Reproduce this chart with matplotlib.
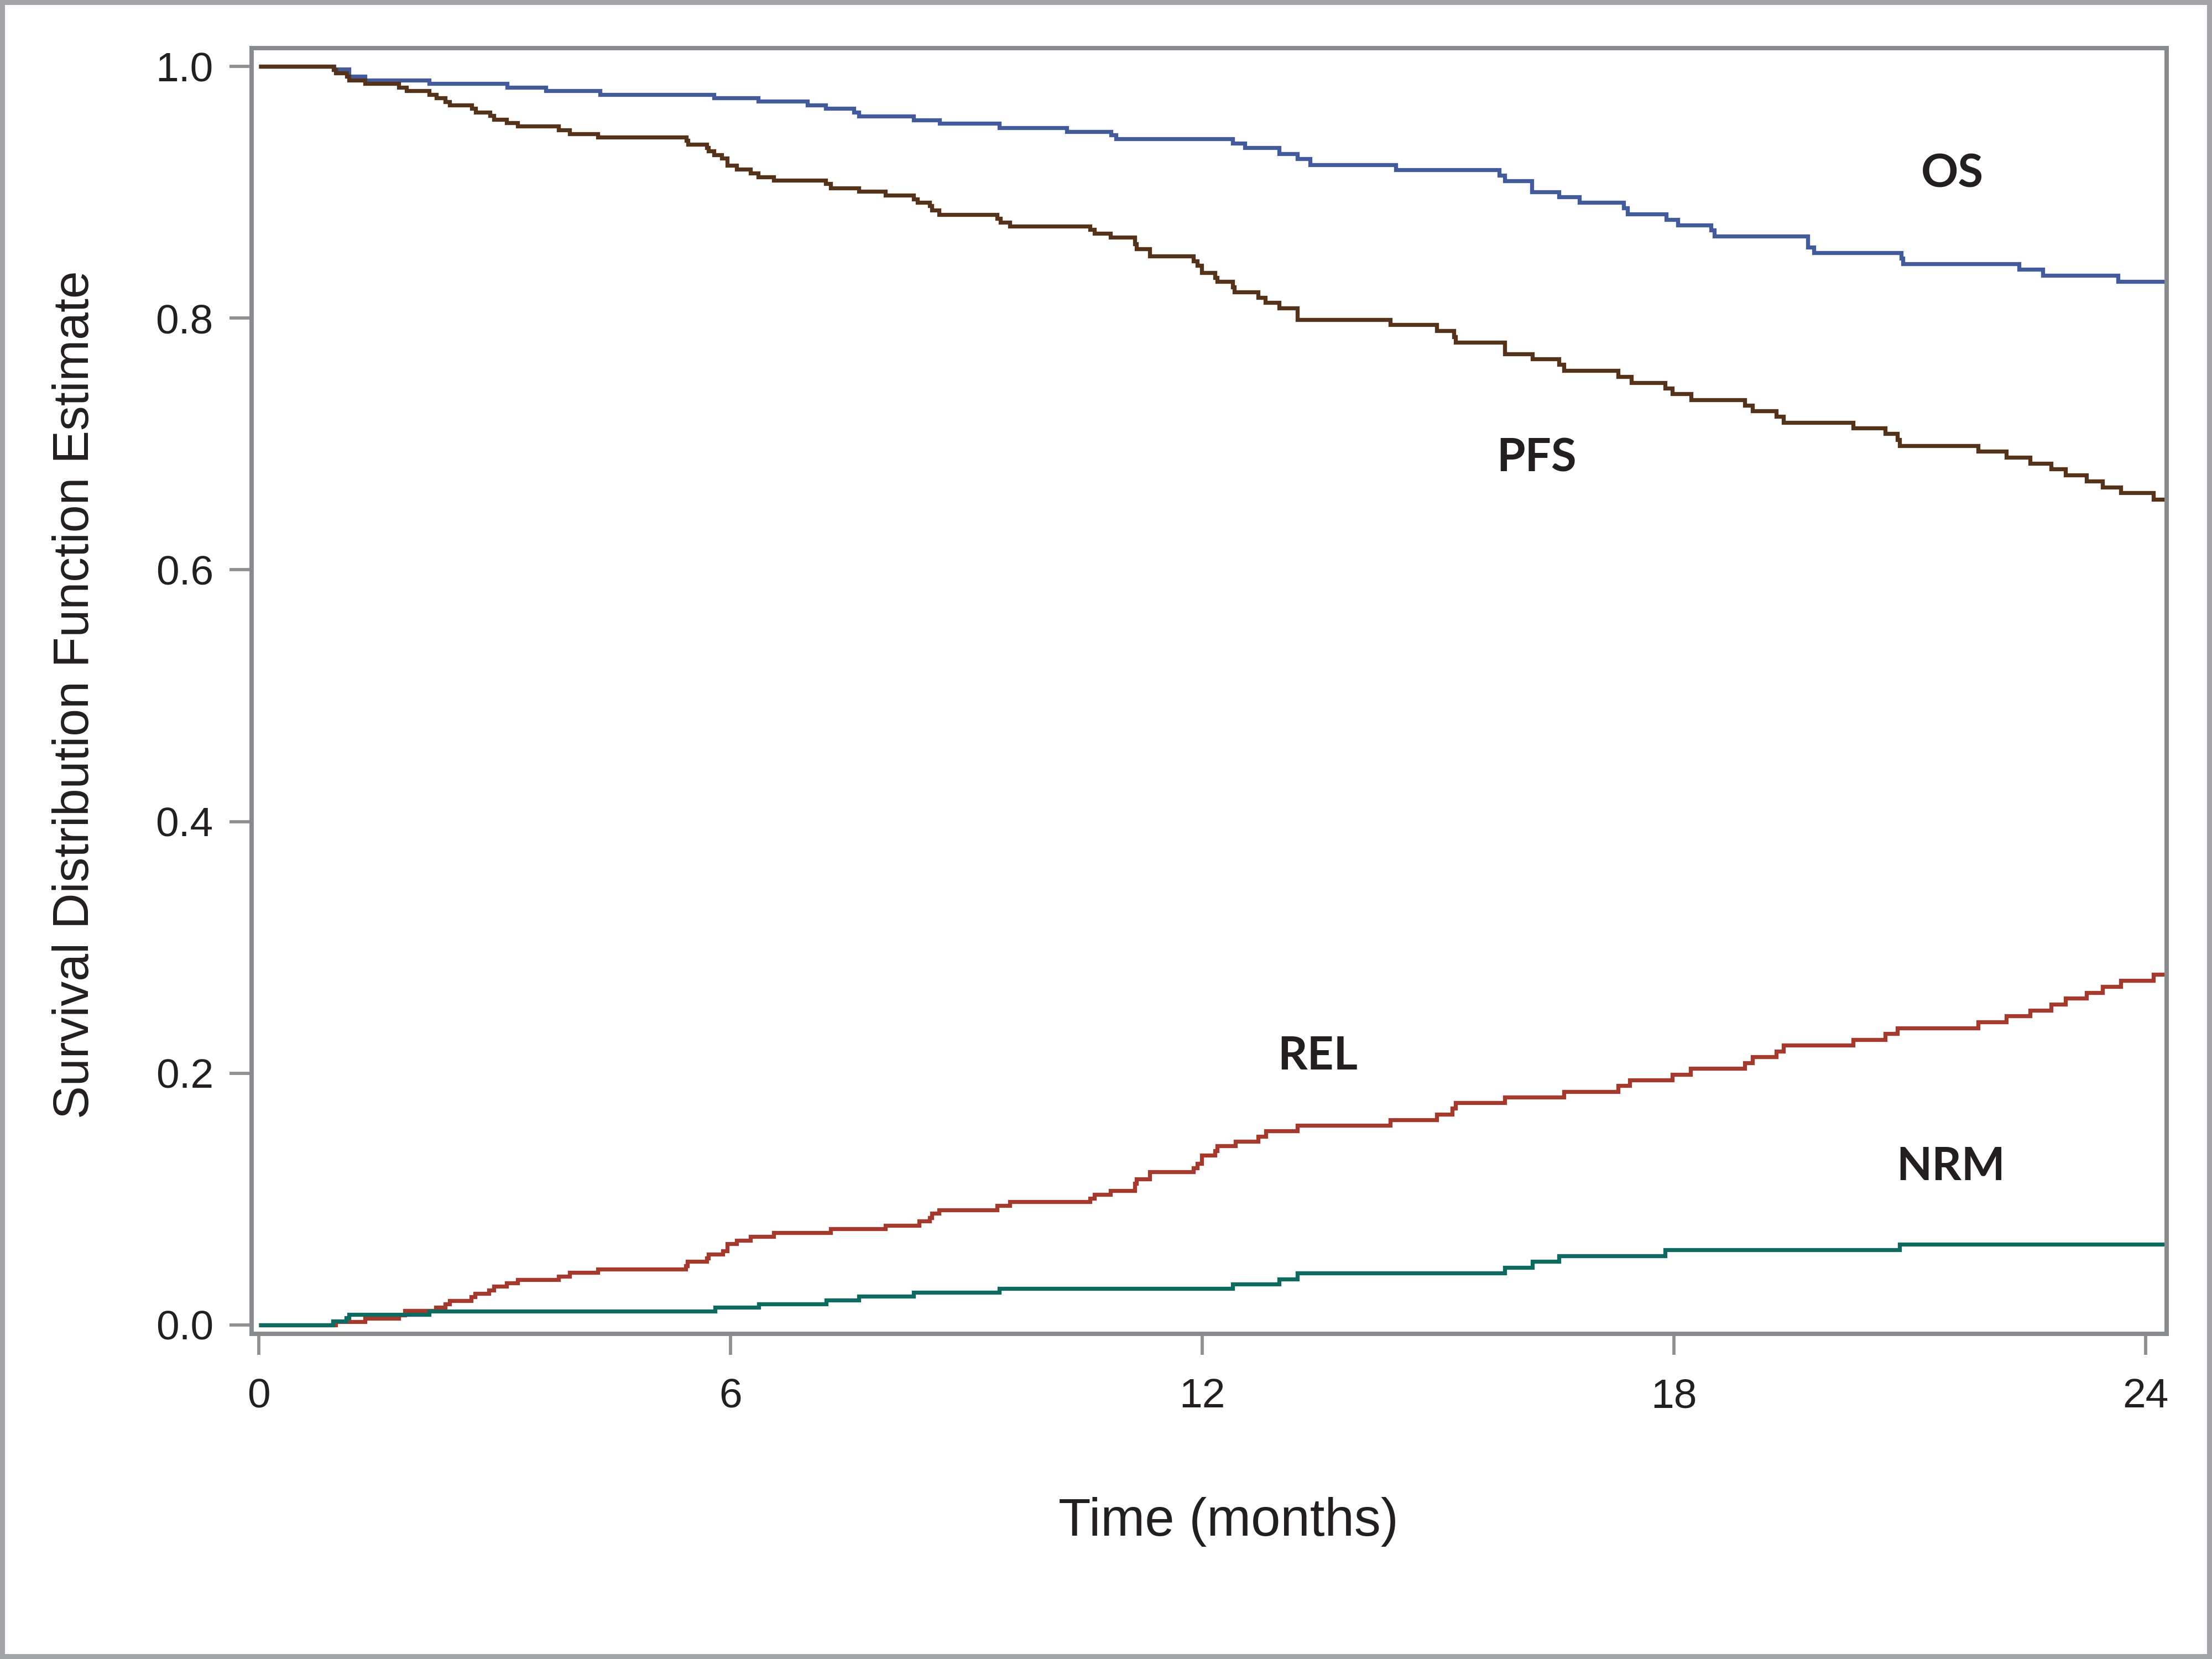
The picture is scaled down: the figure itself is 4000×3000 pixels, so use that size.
import matplotlib
matplotlib.use("Agg")
import matplotlib.pyplot as plt
from matplotlib.ticker import FixedLocator, FormatStrFormatter

# ---------------- data ----------------
END = 24.3  # end of displayed follow-up (curves run to the right frame)

os_t = [0, 0.96, 1.15, 1.35, 2.17, 3.16, 3.65, 4.34, 5.79, 6.35,
        6.98, 7.21, 7.57, 7.63, 8.33, 8.66, 9.42, 10.28, 10.84, 10.90,
        12.39, 12.54, 12.98, 13.21, 13.37, 14.46, 15.78, 15.85, 16.19, 16.54,
        16.80, 17.36, 17.41, 17.90, 18.05, 18.47, 18.51, 19.70, 19.78, 20.89,
        20.91, 22.39, 22.69, 23.65]
os_s = [1.0, .9976, .992, .9892, .9862, .9835, .9808, .9778, .9751, .9724,
        .9691, .9664, .9637, .9603, .9576, .9546, .9513, .9482, .9456, .9425,
        .9388, .9355, .9304, .9267, .9220, .9180, .9136, .9092, .9002, .8961,
        .8918, .8874, .8827, .8783, .8739, .8699, .8649, .8565, .8518, .8474,
        .8430, .8387, .8339, .8292]

pfs_t = [0, 0.95, 0.98, 1.12, 1.15, 1.35, 1.78, 1.88, 2.17, 2.26,
         2.37, 2.43, 2.71, 2.76, 2.94, 2.99, 3.15, 3.29, 3.81, 3.95,
         4.31, 5.44, 5.46, 5.70, 5.72, 5.79, 5.89, 5.96, 6.08, 6.25,
         6.35, 6.55, 7.21, 7.27, 7.63, 7.97, 8.33, 8.38, 8.53, 8.56,
         8.65, 9.39, 9.43, 9.55, 10.57, 10.63, 10.83, 11.14, 11.16, 11.33,
         11.89, 11.94, 11.99, 12.16, 12.19, 12.39, 12.41, 12.71, 12.80, 12.98,
         13.21, 14.39, 14.98, 15.20, 15.22, 15.85, 16.20, 16.54, 16.60, 17.29,
         17.46, 17.89, 17.98, 18.22, 18.90, 19.00, 19.30, 19.39, 20.28, 20.69,
         20.84, 20.87, 21.87, 22.23, 22.53, 22.80, 22.98, 23.25, 23.45, 23.68,
         24.10]
pfs_s = [1.0, .9973, .9946, .9919, .9892, .9862, .9835, .9808, .9778, .9751,
         .9721, .9691, .9664, .9637, .9610, .9580, .9553, .9526, .9496, .9466,
         .9439, .9412, .9382, .9355, .9328, .9297, .9271, .9213, .9183, .9153,
         .9123, .9096, .9069, .9032, .9005, .8975, .8945, .8918, .8891, .8857,
         .8824, .8793, .8760, .8729, .8703, .8672, .8642, .8588, .8548, .8491,
         .8454, .8417, .8360, .8323, .8289, .8245, .8208, .8165, .8124, .8081,
         .7987, .7946, .7899, .7852, .7808, .7714, .7674, .7630, .7583, .7533,
         .7486, .7445, .7398, .7351, .7308, .7261, .7217, .7170, .7126, .7082,
         .7035, .6985, .6941, .6894, .6844, .6800, .6753, .6706, .6655, .6612,
         .6561]

rel_t = [0, 0.98, 1.35, 1.78, 1.86, 2.25, 2.37, 2.43, 2.70, 2.75,
         2.93, 2.99, 3.15, 3.29, 3.81, 3.95, 4.31, 5.43, 5.45, 5.70,
         5.72, 5.90, 5.96, 6.08, 6.25, 6.55, 7.27, 7.97, 8.40, 8.53,
         8.56, 8.65, 9.39, 9.55, 10.57, 10.63, 10.83, 11.14, 11.16, 11.33,
         11.89, 11.94, 11.99, 12.16, 12.19, 12.42, 12.71, 12.81, 13.21, 14.39,
         14.98, 15.18, 15.22, 15.85, 16.60, 17.29, 17.44, 17.98, 18.21, 18.90,
         19.00, 19.30, 19.39, 20.28, 20.69, 20.84, 21.87, 22.23, 22.53, 22.80,
         22.98, 23.25, 23.45, 23.68, 24.10]
rel_s = [0, .0027, .0054, .0081, .0114, .0141, .0168, .0195, .0222, .0249,
         .0276, .0306, .0333, .0360, .0387, .0417, .0444, .0471, .0504, .0531,
         .0561, .0588, .0645, .0672, .0703, .0733, .0763, .0793, .0824, .0854,
         .0887, .0914, .0948, .0978, .1008, .1035, .1066, .1123, .1160, .1217,
         .1250, .1284, .1351, .1385, .1422, .1459, .1499, .1543, .1587, .1630,
         .1674, .1721, .1765, .1812, .1855, .1903, .1946, .1990, .2037, .2081,
         .2131, .2175, .2225, .2269, .2316, .2360, .2407, .2454, .2501, .2548,
         .2595, .2642, .2689, .2736, .2787]

nrm_t = [0, 0.94, 1.11, 1.15, 2.17, 5.80, 6.36, 7.22, 7.63, 8.33,
         9.42, 12.39, 12.98, 13.21, 15.85, 16.20, 16.54, 17.89, 20.87]
nrm_s = [0, .0030, .0057, .0084, .0111, .0141, .0168, .0198, .0229, .0259,
         .0289, .0323, .0366, .0413, .0457, .0504, .0551, .0598, .0642]

curve_names = ["OS", "PFS", "REL", "NRM"]
curve_colors = ["#435a9b", "#55331a", "#a33a2d", "#0e6a60"]
# label anchor (x centre, baseline y) in data units
label_x = [21.54, 16.25, 13.47, 21.52]
label_y = [0.904, 0.678, 0.203, 0.115]

x_ticks = [0, 6, 12, 18, 24]
y_ticks = [0.0, 0.2, 0.4, 0.6, 0.8, 1.0]
x_label = "Time (months)"
y_label = "Survival Distribution Function Estimate"

# ---------------- styling ----------------
BASE = ["Liberation Sans", "Arial", "DejaVu Sans"]
BOLD = ["Lato", "Open Sans", "DejaVu Sans"]
plt.rcParams["font.family"] = BASE
TXT = "#231f20"
SPINE = "#888b8e"

fig = plt.figure(figsize=(4000 / 300, 3000 / 300), dpi=300)
fig.patch.set_facecolor("white")
fig.patch.set_edgecolor("#a2a4a7")
fig.patch.set_linewidth(3.9)

ax = fig.add_axes([0.11375, 0.196, 0.9795 - 0.11375, 0.971 - 0.196])

series = [(os_t, os_s), (pfs_t, pfs_s), (rel_t, rel_s), (nrm_t, nrm_s)]
for (t, s), c in zip(series, curve_colors):
    ax.step(list(t) + [END], list(s) + [s[-1]], where="post",
            color=c, linewidth=1.75, solid_joinstyle="miter",
            solid_capstyle="butt")

for name, xx, yy in zip(curve_names, label_x, label_y):
    ax.text(xx, yy, name, ha="center", va="baseline", fontsize=20,
            fontweight="bold", family=BOLD, color=TXT)

ax.set_xlim(-0.091, 24.267)
ax.set_ylim(-0.00703, 1.0145)
ax.xaxis.set_major_locator(FixedLocator(x_ticks))
ax.yaxis.set_major_locator(FixedLocator(y_ticks))
ax.yaxis.set_major_formatter(FormatStrFormatter("%.1f"))

for sp in ax.spines.values():
    sp.set_color(SPINE)
    sp.set_linewidth(1.9)

ax.tick_params(axis="both", direction="out", color="#8e9194", width=1.4,
               labelcolor=TXT, labelsize=18)
ax.tick_params(axis="y", length=9.6, pad=7)
ax.tick_params(axis="x", length=9.0, pad=10)

ax.set_xlabel(x_label, fontsize=23, color=TXT)
ax.xaxis.label.set_verticalalignment("baseline")
ax.xaxis.set_label_coords(0.51, -0.157)

ax.set_ylabel(y_label, fontsize=21.5, color=TXT)
ax.yaxis.label.set_verticalalignment("baseline")
ax.yaxis.set_label_coords(-0.0852, 0.497)

fig.savefig("out.png", dpi=300, facecolor=fig.get_facecolor(),
            edgecolor=fig.get_edgecolor())
